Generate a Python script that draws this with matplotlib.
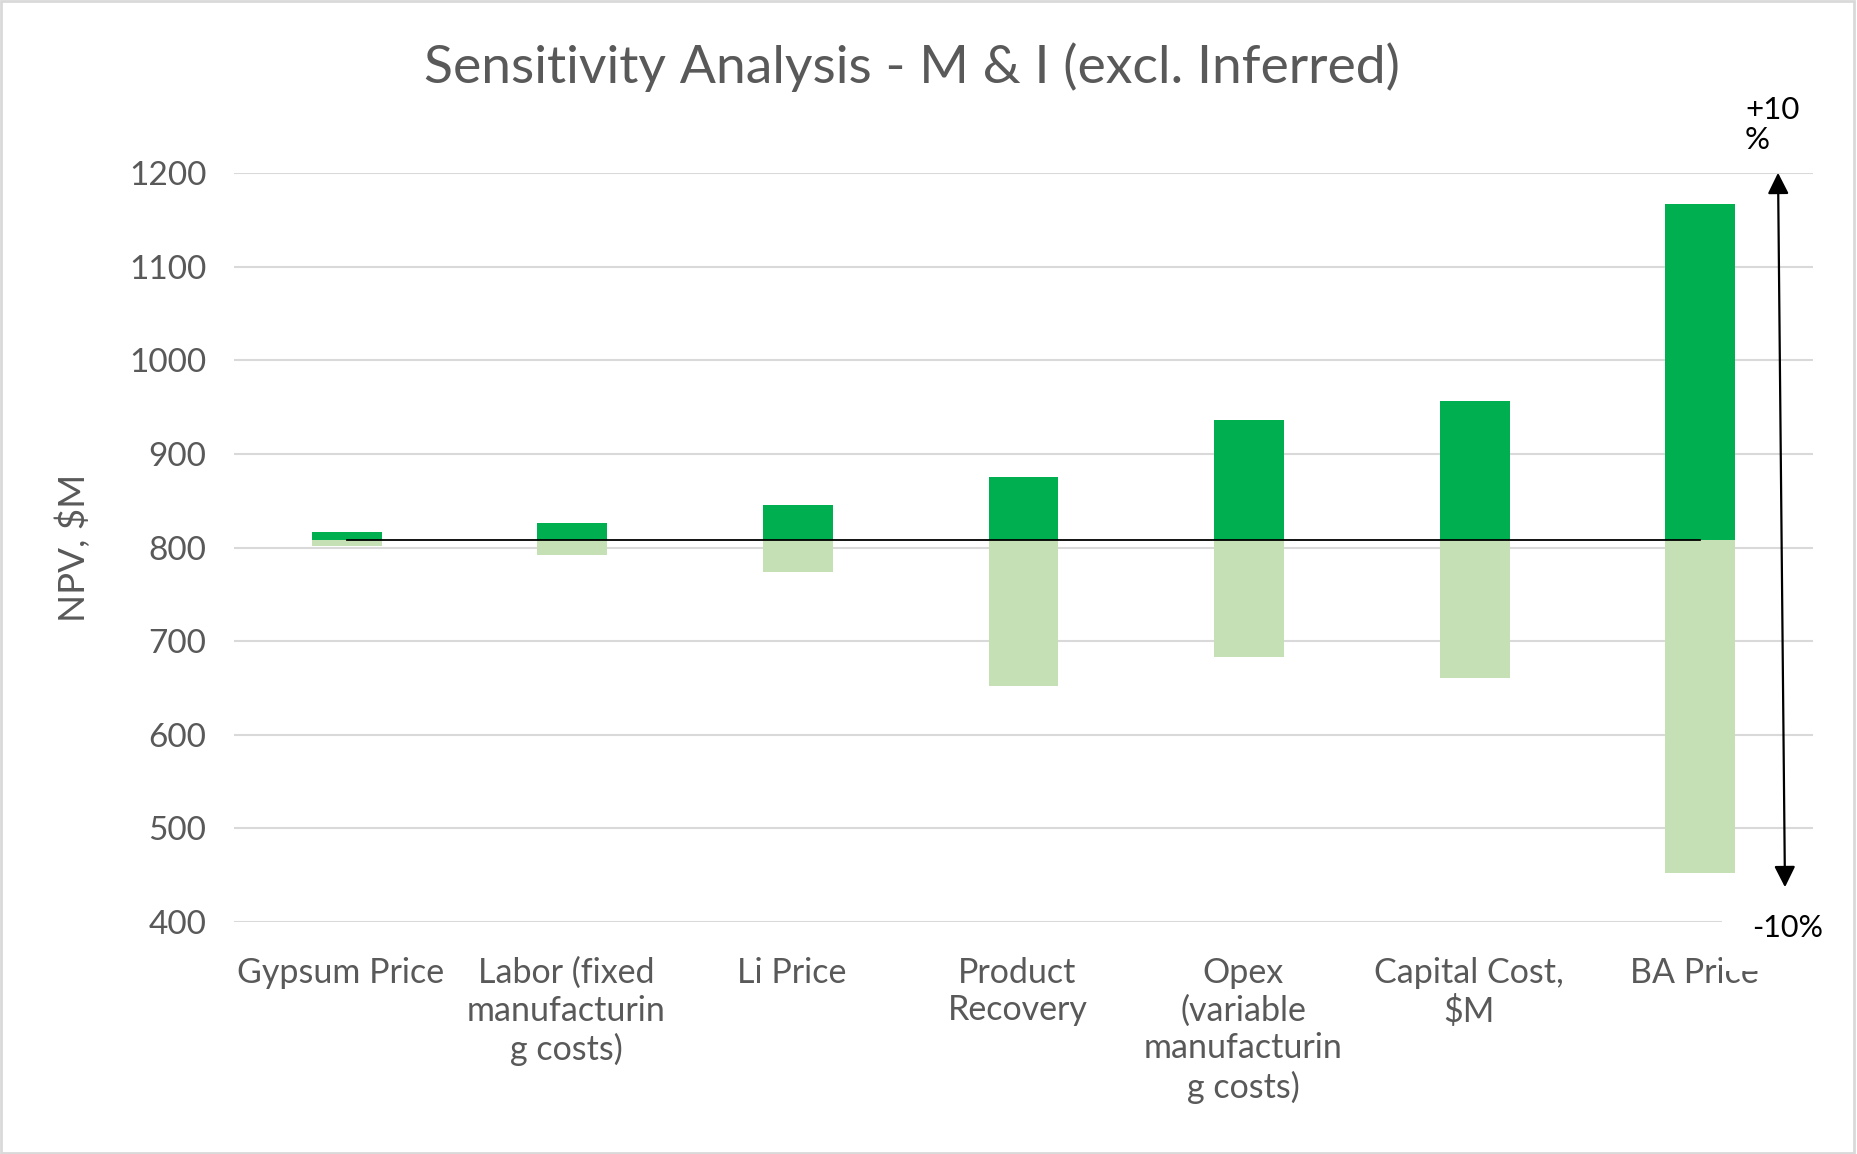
"""Tornado-style sensitivity chart: NPV swing for +/-10% on each input."""

import matplotlib

matplotlib.use("Agg")

import matplotlib.pyplot as plt
import matplotlib.transforms as mtransforms
import numpy as np
from matplotlib.patches import FancyArrowPatch, Rectangle

categories = [
    "Gypsum Price",
    "Labor (fixed\nmanufacturin\ng costs)",
    "Li Price",
    "Product\nRecovery",
    "Opex\n(variable\nmanufacturin\ng costs)",
    "Capital Cost,\n$M",
    "BA Price",
]
base_npv = 808.5
npv_plus10 = [816.5, 826, 845, 875, 936, 957, 1167]
npv_minus10 = [801.5, 792, 774, 652, 683, 661, 452]
y_ticks = [400, 500, 600, 700, 800, 900, 1000, 1100, 1200]

DARK_GREEN = "#00B050"
LIGHT_GREEN = "#C5E0B4"
TEXT_GREY = "#595959"
GRID_GREY = "#D9D9D9"
FONT = ["Lato", "DejaVu Sans"]

W, H = 1857, 1154


def main() -> None:
    plt.rcParams["font.family"] = FONT

    fig = plt.figure(figsize=(W / 100, H / 100), dpi=100)
    ax = fig.add_axes([234 / W, 232 / H, 1579 / W, 749 / H])

    x = np.arange(len(categories))
    up = np.array(npv_plus10) - base_npv
    down = np.array(npv_minus10) - base_npv
    ax.bar(x, up, bottom=base_npv, width=0.31, color=DARK_GREEN, zorder=2)
    ax.bar(x, down, bottom=base_npv, width=0.31, color=LIGHT_GREEN, zorder=2)
    ax.plot(x, [base_npv] * len(x), color="black", lw=1.3, zorder=3)

    ax.set_xlim(-0.5, len(categories) - 0.5)
    ax.set_ylim(y_ticks[0], y_ticks[-1])
    ax.set_yticks(y_ticks)
    ax.set_xticks(x)
    ax.set_xticklabels(categories, linespacing=1.22, fontsize=24.5)
    ax.tick_params(axis="both", length=0, labelcolor=TEXT_GREY)
    ax.tick_params(axis="y", pad=20, labelsize=24)
    ax.tick_params(axis="x", pad=25)
    # Excel centres the wrapped labels a little left of the category centre
    shift = mtransforms.ScaledTranslation(-6 / 100, 0, fig.dpi_scale_trans)
    for lab in ax.get_xticklabels():
        lab.set_horizontalalignment("center")
        lab.set_transform(lab.get_transform() + shift)
    ax.grid(axis="y", color=GRID_GREY, lw=1.5, zorder=0)
    for side in ax.spines.values():
        side.set_visible(False)

    ax.set_ylabel("NPV, $M", fontsize=26.5, color=TEXT_GREY)
    ax.yaxis.set_label_coords(-0.0906, 0.5)

    fig.text(912 / W, 1 - 67 / H, "Sensitivity Analysis - M & I (excl. Inferred)",
             ha="center", va="center", fontsize=38.5, color=TEXT_GREY)

    # white text box of the "-10%" note hides the grid end and the top of "BA Price"
    fig.add_artist(Rectangle((1722 / W, 1 - 971 / H), 128 / W, 66 / H,
                             transform=fig.transFigure, facecolor="white",
                             edgecolor="none", zorder=5))
    fig.text(1752 / W, 1 - 928 / H, "-10%", ha="left", va="center",
             fontsize=22, color="black", zorder=6)
    fig.text(1745 / W, 1 - 96 / H, "+10\n%", ha="left", va="top",
             fontsize=22.5, color="black", linespacing=1.1, zorder=6)

    arrow = FancyArrowPatch((1785 / W, 1 - 890 / H), (1778 / W, 1 - 170 / H),
                            transform=fig.transFigure, arrowstyle="<|-|>",
                            mutation_scale=32, lw=1.6, color="black", zorder=7)
    fig.add_artist(arrow)

    fig.add_artist(Rectangle((0.0005, 0.0008), 0.998, 0.998,
                             transform=fig.transFigure, facecolor="none",
                             edgecolor=GRID_GREY, lw=2.0, zorder=8))

    fig.savefig("out.png", dpi=100)
    plt.close(fig)


if __name__ == "__main__":
    main()
